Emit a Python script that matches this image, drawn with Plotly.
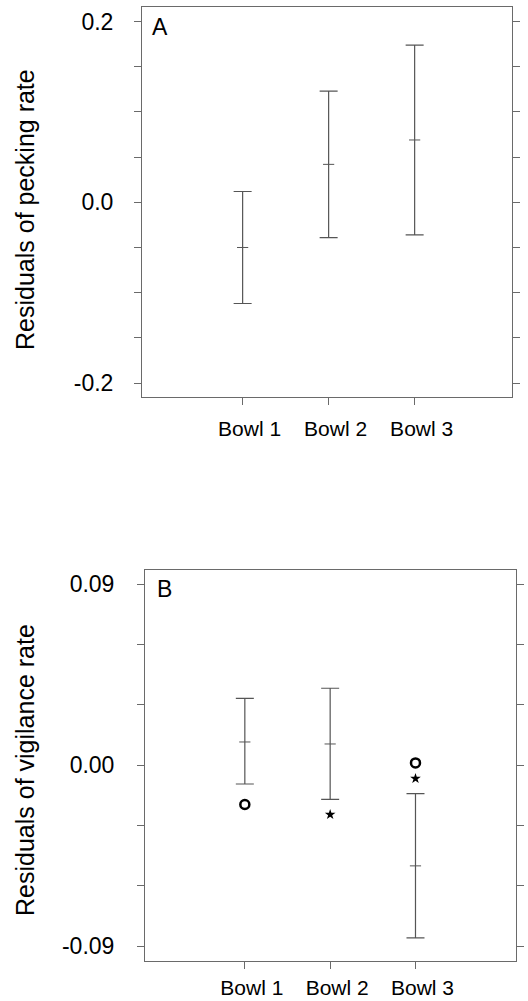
import plotly.graph_objects as go

# ---- data ----
bowls = ["Bowl 1", "Bowl 2", "Bowl 3"]

peck_mean = [-0.050, 0.042, 0.069]
peck_upper = [0.012, 0.123, 0.174]
peck_lower = [-0.112, -0.039, -0.036]

vig_mean = [0.0116, 0.0106, -0.0500]
vig_upper = [0.0333, 0.0383, -0.0141]
vig_lower = [-0.0093, -0.0169, -0.0858]

circle_bowls = ["Bowl 1", "Bowl 3"]
circle_y = [-0.0195, 0.0012]
star_bowls = ["Bowl 2", "Bowl 3"]
star_y = [-0.0245, -0.0066]

peck_tickvals = [-0.2, -0.15, -0.1, -0.05, 0.0, 0.05, 0.1, 0.15, 0.2]
peck_ticktext = ["-0.2", "", "", "", "0.0", "", "", "", "0.2"]
vig_tickvals = [-0.09, -0.06, -0.03, 0.0, 0.03, 0.06, 0.09]
vig_ticktext = ["-0.09", "", "", "0.00", "", "", "0.09"]

FONT = "Liberation Sans"
BAR = "#555555"
AX = "#6a6a6a"

fig = go.Figure()

def add_errbars(mean, upper, lower, xa, ya):
    fig.add_trace(go.Scatter(
        x=bowls, y=mean, mode="markers", xaxis=xa, yaxis=ya,
        marker=dict(symbol="line-ew-open", size=8, color=BAR, line=dict(color=BAR, width=1)),
        error_y=dict(type="data", symmetric=False,
                     array=[u - m for u, m in zip(upper, mean)],
                     arrayminus=[m - l for m, l in zip(mean, lower)],
                     color=BAR, thickness=1.2, width=9),
        showlegend=False, hoverinfo="skip"))

add_errbars(peck_mean, peck_upper, peck_lower, "x", "y")
add_errbars(vig_mean, vig_upper, vig_lower, "x2", "y2")

fig.add_trace(go.Scatter(
    x=circle_bowls, y=circle_y, mode="markers", xaxis="x2", yaxis="y2",
    marker=dict(symbol="circle-open", size=9, color="black", line=dict(color="black", width=2.5)),
    showlegend=False, hoverinfo="skip"))
fig.add_trace(go.Scatter(
    x=star_bowls, y=star_y, mode="markers", xaxis="x2", yaxis="y2",
    marker=dict(symbol="star", size=8, color="black", line=dict(width=0)),
    showlegend=False, hoverinfo="skip"))

xcommon = dict(type="category", categoryorder="array", categoryarray=bowls,
               showline=True, linecolor=AX, linewidth=1, mirror=True,
               ticks="outside", ticklen=7, tickcolor=AX, tickwidth=1,
               showgrid=False, zeroline=False, automargin=False,
               tickfont=dict(family=FONT, size=21, color="black"),
               ticklabelshift=7)
ycommon = dict(showline=True, linecolor=AX, linewidth=1, mirror="ticks",
               ticks="outside", ticklen=7, tickcolor=AX, tickwidth=1,
               showgrid=False, zeroline=False, automargin=False,
               tickfont=dict(family=FONT, size=23, color="black"),
               tickmode="array")

W, H = 528, 1001
fig.update_layout(
    width=W, height=H,
    margin=dict(l=0, r=0, t=0, b=0, pad=0, autoexpand=False),
    paper_bgcolor="white", plot_bgcolor="white",
    showlegend=False,
    xaxis=dict(xcommon, domain=[142 / W, 512 / W], range=[-1.17, 3.132], anchor="y",
               ticklabelstandoff=6),
    yaxis=dict(ycommon, domain=[1 - 397 / H, 1 - 7 / H], range=[-0.2155, 0.2162],
               tickvals=peck_tickvals, ticktext=peck_ticktext, anchor="x",
               ticklabelstandoff=16),
    xaxis2=dict(xcommon, domain=[145 / W, 516 / W], range=[-1.17, 3.178], anchor="y2",
                ticklabelstandoff=1),
    yaxis2=dict(ycommon, domain=[1 - 961 / H, 1 - 570 / H], range=[-0.0973, 0.0971],
                tickvals=vig_tickvals, ticktext=vig_ticktext, anchor="x2",
                ticklabelstandoff=18),
    annotations=[
        dict(text="Residuals of pecking rate", x=25 / W, y=1 - 210 / H, xref="paper", yref="paper",
             textangle=-90, showarrow=False, font=dict(family=FONT, size=25, color="black"),
             xanchor="center", yanchor="middle"),
        dict(text="Residuals of vigilance rate", x=25 / W, y=1 - 770 / H, xref="paper", yref="paper",
             textangle=-90, showarrow=False, font=dict(family=FONT, size=25, color="black"),
             xanchor="center", yanchor="middle"),
        dict(text="A", x=159.5 / W, y=1 - 27 / H, xref="paper", yref="paper",
             showarrow=False, font=dict(family=FONT, size=23, color="black"),
             xanchor="center", yanchor="middle"),
        dict(text="B", x=164.5 / W, y=1 - 589 / H, xref="paper", yref="paper",
             showarrow=False, font=dict(family=FONT, size=23, color="black"),
             xanchor="center", yanchor="middle"),
    ],
)

fig.write_html("out.html", config={"displayModeBar": False},
               post_script="document.body.style.margin='0px';")
